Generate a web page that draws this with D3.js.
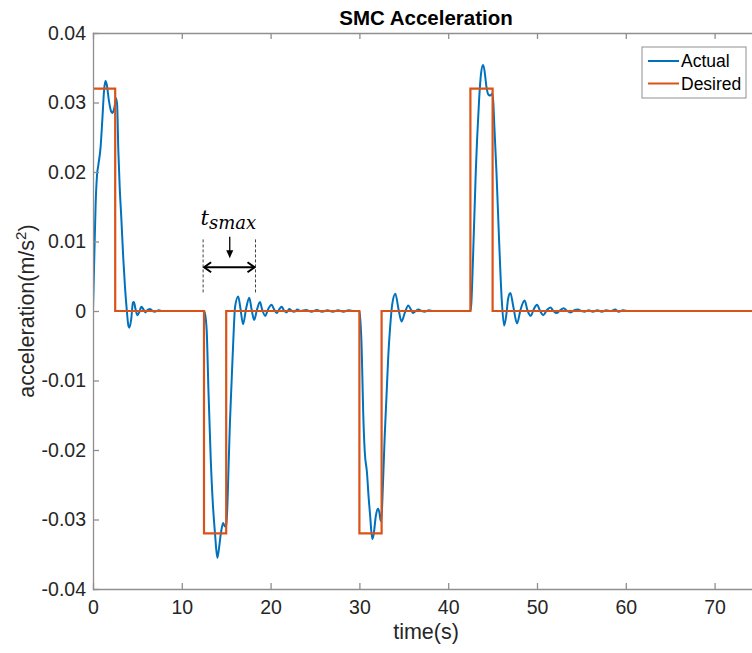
<!DOCTYPE html>
<html>
<head>
<meta charset="utf-8">
<script src="https://cdn.jsdelivr.net/npm/d3@7"></script>
<style>
  body { margin: 0; background: #fff; }
  svg { display: block; font-family: "Liberation Sans", Arial, Helvetica, sans-serif; }
  .axis path, .axis line { stroke: #8f8f8f; stroke-width: 1.3; }
  .axis text { fill: #262626; font-size: 19.5px; }
</style>
</head>
<body>
<div id="chart"></div>
<script>
// ticks
const x_ticks = [0, 10, 20, 30, 40, 50, 60, 70];
const y_ticks = [-0.04, -0.03, -0.02, -0.01, 0, 0.01, 0.02, 0.03, 0.04];

// desired acceleration: step levels, each held until the next switch time
const desired_times = [0, 2.5, 12.5, 15, 30, 32.5, 42.5, 45, 75];
const desired_levels = [0.032, 0, -0.032, 0, -0.032, 0, 0.032, 0, 0];

// actual acceleration, [time, accel]
const actual_pulse1 = [
  [0, 0], [0.15, 0.008], [0.3, 0.0155], [0.45, 0.0195], [0.6, 0.021], [0.85, 0.0235],
  [1.05, 0.0275], [1.25, 0.0318], [1.4, 0.0331], [1.55, 0.0326], [1.8, 0.0302],
  [2.05, 0.0287], [2.2, 0.0285], [2.4, 0.0292], [2.6, 0.0306], [2.72, 0.0296],
  [2.85, 0.0232], [3.0, 0.018], [3.2, 0.0131], [3.4, 0.0078], [3.6, 0.0035],
  [3.8, 0.0002], [4.0, -0.0022], [4.1, -0.0024], [4.3, -0.0012], [4.5, 0.0012],
  [4.6, 0.0013], [4.8, 0.0002], [5.0, -0.0006], [5.2, -0.0002], [5.45, 0.0006],
  [5.7, 0.0002], [5.9, -0.0002], [6.1, 0.0001], [6.4, 0.0003], [6.7, 0],
  [7.0, -0.0001], [7.4, 0.0001], [7.8, 0], [12.5, 0]
];
const actual_pulse2 = [
  [12.6, -0.0003], [12.8, -0.0027], [13.0, -0.0114], [13.25, -0.021], [13.5, -0.0278],
  [13.75, -0.0322], [14.0, -0.0355], [14.15, -0.0345], [14.4, -0.032], [14.65, -0.0305],
  [14.85, -0.031], [15.0, -0.0308], [15.1, -0.029], [15.3, -0.021], [15.42, -0.0161],
  [15.6, -0.0104], [15.8, -0.0042], [16.0, 0.0006], [16.35, 0.0021], [16.6, 0.0004],
  [16.9, -0.0019], [17.25, 0.0004], [17.6, 0.0019], [17.85, 0.0003], [18.15, -0.0013],
  [18.45, 0.0001], [18.8, 0.0013], [19.05, 0.0002], [19.4, -0.0007], [19.7, 0.0002],
  [20.1, 0.0009], [20.4, 0.0002], [20.7, -0.0003], [20.95, 0.0002], [21.25, 0.0006],
  [21.5, 0.0001], [21.8, -0.0002], [22.1, 0.0003], [22.4, 0], [22.7, -0.0001],
  [23.0, 0.0002], [23.4, 0], [24.0, 0.00015], [24.6, -0.0001], [25.2, 0.00015],
  [25.8, -0.0001], [26.4, 0.0001], [27.0, -0.0001], [27.6, 0.0001], [28.2, -0.0001],
  [28.8, 0.0001], [29.4, 0], [30.0, 0]
];
const actual_pulse3 = [
  [30.1, -0.0012], [30.25, -0.0051], [30.43, -0.0147], [30.6, -0.0202], [30.85, -0.0232],
  [31.05, -0.027], [31.2, -0.0293], [31.45, -0.0328], [31.6, -0.0322], [31.85, -0.0295],
  [32.1, -0.0284], [32.25, -0.029], [32.4, -0.0302], [32.5, -0.0295], [32.67, -0.0243],
  [32.85, -0.018], [33.05, -0.0123], [33.25, -0.0065], [33.45, -0.0025], [33.7, 0.001],
  [34.05, 0.0025], [34.4, 0.0003], [34.75, -0.0015], [35.1, -0.0003], [35.5, 0.0008],
  [35.8, 0.0002], [36.05, -0.0003], [36.35, 0], [36.65, 0.0002], [37.0, 0],
  [37.4, -0.0001], [37.8, 0.0001], [38.3, 0], [42.5, 0]
];
const actual_pulse4 = [
  [42.6, 0.001], [42.8, 0.0078], [43.1, 0.0198], [43.25, 0.0246], [43.48, 0.0304],
  [43.7, 0.0342], [43.93, 0.0354], [44.1, 0.0345], [44.3, 0.0323], [44.55, 0.0311],
  [44.75, 0.031], [44.98, 0.0313], [45.08, 0.03], [45.2, 0.0265], [45.44, 0.0198],
  [45.73, 0.0102], [46.03, 0.0016], [46.3, -0.0021], [46.55, -0.0005], [46.75, 0.0018],
  [47.0, 0.0026], [47.35, 0.0005], [47.75, -0.0018], [48.15, 0.0002], [48.6, 0.0015],
  [48.95, 0], [49.3, -0.0007], [49.65, 0.0003], [50.0, 0.0009], [50.35, 0],
  [50.7, -0.0006], [51.1, 0.0001], [51.5, 0.0005], [51.85, 0], [52.2, -0.0003],
  [52.6, 0.0001], [53.0, 0.0004], [53.4, 0], [53.8, -0.0002], [54.2, 0.0001],
  [54.6, 0.0002], [55.0, 0], [55.4, -0.0001], [55.8, 0.0001], [56.3, -0.0001],
  [56.8, 0.0001], [57.3, -0.0001], [57.8, 0.0001], [58.3, 0], [58.8, 0.0002],
  [59.2, -0.0001], [59.7, 0.0001], [60.3, 0], [75, 0]
];

// settling-time annotation: bounds, arrow level, pointer
const annot_times = [12.4, 18.3];
const annot_span = [0.0025, 0.0103];
const annot_arrow_level = 0.0063;
const annot_pointer = [15.4, 0.0107, 0.0076];

const legend_labels = ["Actual", "Desired"];
const colors = ["#0072BD", "#D95319"];

const width = 752, height = 653;
const plot = {left: 93, top: 33, right: 759, bottom: 589};

const x = d3.scaleLinear().domain([0, 75]).range([plot.left, plot.right]);
const y = d3.scaleLinear().domain([-0.04, 0.04]).range([plot.bottom, plot.top]);

const svg = d3.select("#chart").append("svg")
  .attr("width", width)
  .attr("height", height);

svg.append("defs").append("clipPath").attr("id", "clip")
  .append("rect")
  .attr("x", plot.left).attr("y", plot.top)
  .attr("width", plot.right - plot.left).attr("height", plot.bottom - plot.top);

// lines: actual first so desired sits on top
const actual = actual_pulse1.concat(actual_pulse2, actual_pulse3, actual_pulse4);
const desired = desired_times.map((t, i) => [t, desired_levels[i]]);

const lines = svg.append("g").attr("clip-path", "url(#clip)");

lines.append("path")
  .datum(actual)
  .attr("fill", "none")
  .attr("stroke", colors[0])
  .attr("stroke-width", 2)
  .attr("stroke-linejoin", "round")
  .attr("d", d3.line().x(d => x(d[0])).y(d => y(d[1])).curve(d3.curveMonotoneX));

lines.append("path")
  .datum(desired)
  .attr("fill", "none")
  .attr("stroke", colors[1])
  .attr("stroke-width", 2.2)
  .attr("d", d3.line().x(d => x(d[0])).y(d => y(d[1])).curve(d3.curveStepAfter));

// axes, ticks point inward
svg.append("g").attr("class", "axis")
  .attr("transform", `translate(0,${plot.bottom})`)
  .call(d3.axisBottom(x).tickValues(x_ticks).tickSizeInner(-6).tickSizeOuter(0).tickPadding(11)
    .tickFormat(d3.format("d")))
  .call(g => g.selectAll("text").attr("dy", "0.71em"));

svg.append("g").attr("class", "axis")
  .attr("transform", `translate(0,${plot.top})`)
  .call(d3.axisTop(x).tickValues(x_ticks).tickSizeInner(-6).tickSizeOuter(0).tickFormat(""));

svg.append("g").attr("class", "axis")
  .attr("transform", `translate(${plot.left},0)`)
  .call(d3.axisLeft(y).tickValues(y_ticks).tickSizeInner(-6).tickSizeOuter(0).tickPadding(7)
    .tickFormat(d => d === 0 ? "0" : d.toFixed(2)));

svg.append("g").attr("class", "axis")
  .attr("transform", `translate(${plot.right},0)`)
  .call(d3.axisRight(y).tickValues(y_ticks).tickSizeInner(-6).tickSizeOuter(0).tickFormat(""));

svg.selectAll(".axis .domain").attr("stroke-linecap", "square");

// title and labels
svg.append("text")
  .attr("x", (plot.left + plot.right) / 2)
  .attr("y", 25)
  .attr("text-anchor", "middle")
  .attr("font-weight", "bold")
  .attr("font-size", "20.5px")
  .attr("fill", "#000")
  .text("SMC Acceleration");

svg.append("text")
  .attr("x", (plot.left + plot.right) / 2)
  .attr("y", 639)
  .attr("text-anchor", "middle")
  .attr("font-size", "21.5px")
  .attr("fill", "#262626")
  .text("time(s)");

const ylab = svg.append("text")
  .attr("transform", `translate(34,${(plot.top + plot.bottom) / 2}) rotate(-90)`)
  .attr("text-anchor", "middle")
  .attr("font-size", "21.5px")
  .attr("fill", "#262626");
ylab.append("tspan").text("acceleration(m/s");
ylab.append("tspan").attr("font-size", "15px").attr("dy", "-8").text("2");
ylab.append("tspan").attr("dy", "8").text(")");

// annotation
const annot = svg.append("g");
annot_times.forEach(t => {
  annot.append("line")
    .attr("x1", x(t)).attr("x2", x(t))
    .attr("y1", y(annot_span[1])).attr("y2", y(annot_span[0]))
    .attr("stroke", "#444")
    .attr("stroke-width", 1)
    .attr("stroke-dasharray", "3,2");
});

const ax0 = x(annot_times[0]), ax1 = x(annot_times[1]), ay = y(annot_arrow_level);
annot.append("line")
  .attr("x1", ax0 + 1).attr("x2", ax1 - 1)
  .attr("y1", ay).attr("y2", ay)
  .attr("stroke", "#000").attr("stroke-width", 2);
annot.append("path")
  .attr("d", `M${ax0 + 8},${ay - 5}L${ax0 + 1},${ay}L${ax0 + 8},${ay + 5}` +
             `M${ax1 - 8},${ay - 5}L${ax1 - 1},${ay}L${ax1 - 8},${ay + 5}`)
  .attr("fill", "none").attr("stroke", "#000").attr("stroke-width", 2);

const px = x(annot_pointer[0]), py0 = y(annot_pointer[1]), py1 = y(annot_pointer[2]);
annot.append("line")
  .attr("x1", px).attr("x2", px)
  .attr("y1", py0).attr("y2", py1 - 6)
  .attr("stroke", "#000").attr("stroke-width", 1.3);
annot.append("path")
  .attr("d", `M${px},${py1}L${px - 3.5},${py1 - 8}L${px + 3.5},${py1 - 8}Z`)
  .attr("fill", "#000");

const tlab = annot.append("text")
  .attr("x", x(12.1))
  .attr("y", y(0.0124))
  .attr("font-family", "'DejaVu Serif', serif")
  .attr("font-style", "italic")
  .attr("fill", "#000");
tlab.append("tspan").attr("font-size", "21px").text("t");
tlab.append("tspan").attr("font-size", "18px").attr("dy", "4").text("smax");

// legend
const legend = svg.append("g").attr("transform", "translate(642,47)");
legend.append("rect")
  .attr("width", 104).attr("height", 51)
  .attr("fill", "#fff")
  .attr("stroke", "#8f8f8f")
  .attr("stroke-width", 1);
legend_labels.forEach((label, i) => {
  const ly = 14 + i * 22.5;
  legend.append("line")
    .attr("x1", 6).attr("x2", 37)
    .attr("y1", ly).attr("y2", ly)
    .attr("stroke", colors[i]).attr("stroke-width", 2);
  legend.append("text")
    .attr("x", 39).attr("y", ly + 6)
    .attr("font-size", "17.5px")
    .attr("fill", "#000")
    .text(label);
});
</script>
</body>
</html>
